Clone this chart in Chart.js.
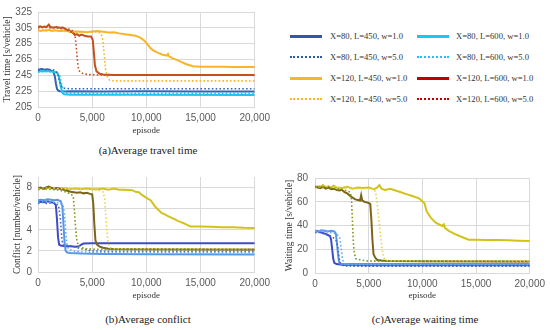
<!DOCTYPE html>
<html>
<head>
<meta charset="utf-8">
<script src="https://cdn.jsdelivr.net/npm/chart.js@4.4.1/dist/chart.umd.min.js"></script>
<style>
  body { margin: 0; background: #fff; width: 550px; height: 330px; position: relative; overflow: hidden; }
  canvas { position: absolute; }
  .cap { position: absolute; font-family: "Liberation Serif", serif; font-size: 11px; color: #222; transform: translateX(-50%); white-space: nowrap; }
  .lg { position: absolute; font-family: "Liberation Serif", serif; font-size: 8.6px; color: #333; white-space: nowrap; line-height: 10px; }
  .sw { position: absolute; width: 32px; height: 0; }
</style>
</head>
<body>
<canvas id="chartTravel" width="275" height="140" style="left:0;top:0"></canvas>
<canvas id="chartConflict" width="275" height="140" style="left:0;top:165px"></canvas>
<canvas id="chartWaiting" width="275" height="140" style="left:275px;top:165px"></canvas>
<div class="cap" style="left:148px;top:144px">(a)Average travel time</div>
<div class="cap" style="left:148px;top:313px">(b)Average conflict</div>
<div class="cap" style="left:425px;top:313px">(c)Average waiting time</div>
<div id="legend"></div>
<script>
// label seri
const seriesLabels = [
  'X=80, L=450, w=1.0', 'X=80, L=600, w=1.0',
  'X=80, L=450, w=5.0', 'X=80, L=600, w=5.0',
  'X=120, L=450, w=1.0', 'X=120, L=600, w=1.0',
  'X=120, L=450, w=5.0', 'X=120, L=600, w=5.0'
];
const dottedSeries = [false, false, true, true, false, false, true, true];

// tick axis
const episodeTicks = [0, 5000, 10000, 15000, 20000];
const travelTicks = [205, 225, 245, 265, 285, 305, 325];
const conflictTicks = [0, 1, 2, 3, 4, 5, 6, 7, 8, 9];
const waitingTicks = [0, 10, 20, 30, 40, 50, 60, 70, 80];

// (a) travel time [episode, s/vehicle]
const tt_80_450_1 = [[0,252],[300,253],[600,252],[900,252.5],[1200,251],[1400,250],[1550,244],[1650,235],[1750,228],[1850,226],[2000,225],[2500,224.5],[3000,224.8],[6000,224.6],[10000,224.8],[15000,224.6],[20000,224.7]];
const tt_80_600_1 = [[0,250],[500,250.5],[1000,250],[1500,249.5],[1800,248],[1950,242],[2100,231],[2250,223],[2400,221],[3000,220.5],[8000,220.4],[20000,220.3]];
const tt_80_450_5 = [[0,251],[400,253],[800,252],[1200,252.5],[1600,251],[1800,248],[1950,240],[2100,233],[2250,229.5],[2500,228.5],[3000,228],[9000,228],[20000,228]];
const tt_80_600_5 = [[0,249],[600,250],[1200,249.5],[1700,248],[2000,245],[2150,236],[2300,228],[2450,224],[2700,222.5],[8000,222.3],[20000,222.2]];
const tt_120_450_1 = [[0,302],[250,301],[500,302],[750,301.5],[1000,302.5],[1250,301],[1500,302],[2000,301],[2500,301.5],[3000,300],[3500,300.5],[4000,300],[4500,299.5],[5000,300.5],[5500,301],[6000,300],[6500,299],[7000,299.5],[7500,298],[8000,297],[8500,296],[9000,295],[9400,293],[9800,289],[10000,286],[10400,279],[10700,276],[11000,274],[11500,271],[11900,270],[12000,272],[12100,269],[12500,266],[12800,264.5],[13200,262],[13700,259],[14300,256.5],[15000,256],[16000,256],[17000,255.8],[18000,255.6],[19000,255.6],[20000,255.5]];
const tt_120_600_1 = [[0,306],[200,307],[400,305.5],[600,306.5],[800,306],[1000,309],[1150,306],[1400,305],[1700,306],[2000,305],[2300,305.5],[2600,303],[2900,301],[3200,299],[3400,296],[3600,297],[3800,295],[4000,296.5],[4300,295],[4600,294],[4900,294],[5050,290],[5150,275],[5250,258],[5400,250],[5700,247],[6000,246],[7000,245.5],[10000,245.5],[15000,245.5],[20000,245.5]];
const tt_120_450_5 = [[0,302],[1000,302],[2000,301],[3000,300],[4000,300],[5000,299.5],[5500,300],[5800,298],[5950,292],[6050,280],[6150,265],[6250,252],[6400,243],[6600,239],[7000,238],[12000,238],[20000,238]];
const tt_120_600_5 = [[0,305],[500,306],[1000,305],[1500,305.5],[2000,304],[2500,304],[3000,303],[3300,300],[3450,292],[3550,278],[3650,262],[3750,252],[3900,249],[4200,247],[4600,246],[5500,245.5],[20000,245]];

// (b) conflict [episode, number/vehicle]
const cf_80_450_1 = [[0,6.6],[300,6.65],[600,6.6],[900,6.7],[1200,6.6],[1500,6.55],[1650,6.3],[1750,5.0],[1850,3.3],[1950,2.6],[2100,2.5],[2500,2.45],[3000,2.45],[3500,2.4],[3800,2.45],[4000,2.6],[4200,2.7],[5000,2.72],[10000,2.72],[20000,2.72]];
const cf_80_600_1 = [[0,6.8],[300,6.85],[600,6.8],[900,6.9],[1200,6.85],[1500,6.8],[1800,6.85],[2100,6.7],[2250,6.2],[2350,4.5],[2450,2.8],[2550,2.0],[2700,1.85],[3000,1.8],[4000,1.75],[6000,1.7],[10000,1.68],[20000,1.65]];
const cf_80_450_5 = [[0,6.5],[400,6.6],[800,6.5],[1200,6.55],[1600,6.5],[1900,6.3],[2050,5.2],[2150,3.8],[2250,2.8],[2400,2.5],[3000,2.45],[3500,2.35],[4000,2.2],[4500,2.1],[5000,2.0],[6000,1.97],[10000,1.96],[20000,1.95]];
const cf_80_600_5 = [[0,6.6],[500,6.7],[1000,6.65],[1500,6.6],[2000,6.55],[2300,6.4],[2450,5.5],[2550,4.0],[2650,2.7],[2800,2.2],[3200,2.0],[4000,1.9],[6000,1.85],[20000,1.83]];
const cf_120_450_1 = [[0,7.9],[300,7.95],[600,7.85],[900,7.95],[1200,8.0],[1500,7.9],[2000,7.95],[2500,7.9],[3000,7.85],[3500,7.9],[4000,7.85],[4500,7.9],[5000,7.85],[5500,7.85],[6000,7.9],[6500,7.8],[7000,7.9],[7500,7.8],[8000,7.8],[8700,7.75],[9000,7.6],[9300,7.55],[9600,7.3],[9900,7.1],[10200,6.9],[10400,6.8],[10600,6.5],[10800,6.2],[11100,5.9],[11400,5.6],[11700,5.45],[12000,5.3],[12300,5.15],[12600,5.0],[12900,4.85],[13200,4.72],[13500,4.6],[13800,4.45],[14100,4.3],[15000,4.3],[16000,4.28],[17000,4.25],[18000,4.25],[19000,4.2],[20000,4.18]];
const cf_120_600_1 = [[0,7.95],[250,8.0],[500,7.9],[750,8.0],[1000,8.1],[1250,7.95],[1500,7.9],[1800,7.95],[2100,7.85],[2400,7.8],[2700,7.7],[3000,7.6],[3300,7.55],[3600,7.5],[3900,7.55],[4200,7.45],[4500,7.5],[4800,7.4],[5000,7.35],[5100,6.5],[5200,4.5],[5300,3.0],[5450,2.6],[5700,2.4],[6000,2.3],[6500,2.2],[7000,2.18],[10000,2.15],[20000,2.14]];
const cf_120_450_5 = [[0,7.9],[1000,7.95],[2000,7.9],[3000,7.85],[4000,7.85],[5000,7.8],[5600,7.75],[6000,7.6],[6150,7.0],[6250,5.5],[6350,4.0],[6450,3.0],[6550,2.5],[6750,2.25],[7000,2.2],[20000,2.2]];
const cf_120_600_5 = [[0,7.8],[500,7.9],[1000,7.85],[1500,7.8],[2000,7.75],[2500,7.6],[3000,7.4],[3250,7.2],[3350,6.0],[3450,4.5],[3550,3.2],[3700,2.5],[4000,2.3],[4500,2.2],[5500,2.15],[20000,2.1]];

// (c) waiting time [episode, s/vehicle]
const wt_80_450_1 = [[0,35],[200,35.5],[400,34.5],[600,34],[800,33.5],[1000,33],[1200,32],[1400,31],[1500,28],[1600,20],[1700,12],[1800,8.5],[2000,7.5],[2500,7],[3000,6.8],[5000,6.6],[10000,6.5],[20000,6.5]];
const wt_80_600_1 = [[0,35.5],[300,35],[600,36],[900,35.5],[1200,35],[1500,35.5],[1800,35],[1950,33],[2050,25],[2150,15],[2250,9],[2400,7.5],[3000,7.5],[5000,7.6],[20000,7.6]];
const wt_80_450_5 = [[0,34],[400,34.5],[800,33],[1200,32],[1500,31],[1800,29],[2000,27],[2150,20],[2250,12],[2400,7.5],[2700,6],[3500,5.8],[20000,5.8]];
const wt_80_600_5 = [[0,35],[500,35.5],[1000,35],[1500,34],[2000,33],[2300,30],[2450,20],[2550,12],[2700,8],[3000,7],[20000,7]];
const wt_120_450_1 = [[0,72],[250,73],[500,72.5],[750,74],[1000,72],[1250,73],[1500,72],[1750,73.5],[2000,72],[2500,71.5],[3000,72.5],[3500,71],[4000,72],[4500,71.5],[5000,72],[5500,70.5],[5800,72],[6000,74],[6200,71],[6500,70],[7000,71],[7500,69.5],[8000,68],[8500,66.4],[9000,65],[9700,62.8],[10200,58.7],[10400,51.9],[10800,46.4],[11250,42.3],[11850,39.6],[12000,41],[12100,38],[12460,35.5],[13000,33],[13400,31.4],[14300,28.1],[15000,28],[16000,27.8],[17000,27.8],[18000,27.5],[19000,27.2],[20000,27]];
const wt_120_600_1 = [[0,73],[250,72],[500,71.5],[750,72.5],[1000,71],[1250,72],[1500,70.5],[1750,71],[2000,70],[2250,69.5],[2500,70],[2750,68],[3000,67],[3250,65],[3500,63.5],[3750,62],[4000,61.5],[4200,61],[4300,65.5],[4400,61],[4600,60],[4800,59.5],[5000,59],[5150,58],[5250,45],[5350,28],[5450,16],[5600,13],[5800,11],[6200,10.5],[7000,10],[10000,9.8],[20000,9.6]];
const wt_120_450_5 = [[0,72],[1000,73],[2000,72],[3000,71.5],[4000,71],[5000,71],[5500,71],[5650,68],[5800,58],[5950,45],[6100,32],[6250,20],[6400,13],[6550,11],[7000,10.2],[20000,10]];
const wt_120_600_5 = [[0,72],[500,73],[1000,72],[1500,71.5],[2000,71],[2500,70.5],[3000,69],[3300,68],[3400,62],[3480,45],[3560,28],[3650,17],[3800,12],[4300,10.8],[5000,10],[20000,9.5]];

// warna garis
const travelColors = ['#3466b6', '#1fc4ec', '#3466b6', '#1fc4ec', '#f8b52c', '#c4501c', '#f8b52c', '#c4501c'];
const lowerColors = ['#3c4cc4', '#5a96e6', '#4466d0', '#60aef0', '#d2c21a', '#7d6418', '#e6d650', '#7c9a1c'];
const legendColors = ['#2e5aa8', '#19c8f2', '#2e5aa8', '#19c8f2', '#ffb32e', '#c00000', '#ffb32e', '#c00000'];

function toPoints(arr) {
  return arr.map(p => ({ x: p[0], y: p[1] }));
}

function buildDatasets(seriesList, colors) {
  // urutan gambar: yang di bawah dulu
  return seriesList.map((s, i) => ({
    label: seriesLabels[i],
    data: toPoints(s),
    borderColor: colors[i],
    borderWidth: dottedSeries[i] ? 1.6 : 2,
    borderDash: dottedSeries[i] ? [1.6, 2.2] : [],
    pointRadius: 0,
    tension: 0,
    fill: false
  })).reverse();
}

function makeOptions(yTitle, yTicks, dims) {
  return {
    responsive: false,
    devicePixelRatio: 1,
    animation: false,
    layout: { padding: { top: dims.top, right: dims.right, left: 0, bottom: 0 } },
    plugins: { legend: { display: false }, tooltip: { enabled: false } },
    scales: {
      x: {
        type: 'linear',
        min: 0, max: 20000,
        afterBuildTicks: s => { s.ticks = episodeTicks.map(v => ({ value: v })); },
        afterFit: s => { s.height = dims.xh; },
        grid: { color: '#d9d9d9', drawTicks: false },
        border: { color: '#d9d9d9' },
        ticks: {
          padding: 5, color: '#595959',
          font: { family: 'Liberation Sans', size: 10 },
          callback: v => v.toLocaleString('en-US')
        },
        title: {
          display: true, text: 'episode', color: '#333',
          font: { family: 'Liberation Serif', size: 9 },
          padding: { top: 0, bottom: 4 }
        }
      },
      y: {
        min: yTicks[0], max: yTicks[yTicks.length - 1],
        afterBuildTicks: s => { s.ticks = yTicks.map(v => ({ value: v })); },
        afterFit: s => { s.width = dims.yw; },
        grid: { color: '#d9d9d9', drawTicks: false },
        border: { color: '#d9d9d9' },
        ticks: {
          padding: dims.tp, color: '#595959',
          font: { family: 'Liberation Sans', size: 10 }
        },
        title: {
          display: true, text: yTitle, color: '#333',
          font: { family: 'Liberation Serif', size: 9.5 },
          padding: { top: dims.tt, bottom: 0 }
        }
      }
    }
  };
}

new Chart(document.getElementById('chartTravel').getContext('2d'), {
  type: 'line',
  data: { datasets: buildDatasets([tt_80_450_1, tt_80_600_1, tt_80_450_5, tt_80_600_5, tt_120_450_1, tt_120_600_1, tt_120_450_5, tt_120_600_5], travelColors) },
  options: makeOptions('Travel time [s/vehicle]', travelTicks, { top: 8, right: 18, xh: 33, yw: 38, tp: 6, tt: 2 })
});

new Chart(document.getElementById('chartConflict').getContext('2d'), {
  type: 'line',
  data: { datasets: buildDatasets([cf_80_450_1, cf_80_600_1, cf_80_450_5, cf_80_600_5, cf_120_450_1, cf_120_600_1, cf_120_450_5, cf_120_600_5], lowerColors) },
  options: makeOptions('Conflict [number/vehicle]', conflictTicks, { top: 9, right: 18, xh: 33, yw: 38, tp: 6, tt: 12 })
});

new Chart(document.getElementById('chartWaiting').getContext('2d'), {
  type: 'line',
  data: { datasets: buildDatasets([wt_80_450_1, wt_80_600_1, wt_80_450_5, wt_80_600_5, wt_120_450_1, wt_120_600_1, wt_120_450_5, wt_120_600_5], lowerColors) },
  options: makeOptions('Waiting time [s/vehicle]', waitingTicks, { top: 11, right: 16, xh: 32, yw: 40, tp: 7, tt: 9 })
});

// legenda (dua kolom)
var legendBox = document.getElementById('legend');
seriesLabels.forEach(function(label, i) {
  var col = i % 2, row = Math.floor(i / 2);
  var cy = 36 + row * 21;
  var sw = document.createElement('div');
  sw.className = 'sw';
  sw.style.left = (col ? 417 : 290) + 'px';
  sw.style.top = (cy - (dottedSeries[i] ? 1 : 1.5)) + 'px';
  sw.style.borderTop = dottedSeries[i] ? ('2px dotted ' + legendColors[i]) : ('3px solid ' + legendColors[i]);
  legendBox.appendChild(sw);
  var tx = document.createElement('div');
  tx.className = 'lg';
  tx.style.left = (col ? 456 : 330) + 'px';
  tx.style.top = (cy - 5) + 'px';
  tx.textContent = label;
  legendBox.appendChild(tx);
});
</script>
</body>
</html>
